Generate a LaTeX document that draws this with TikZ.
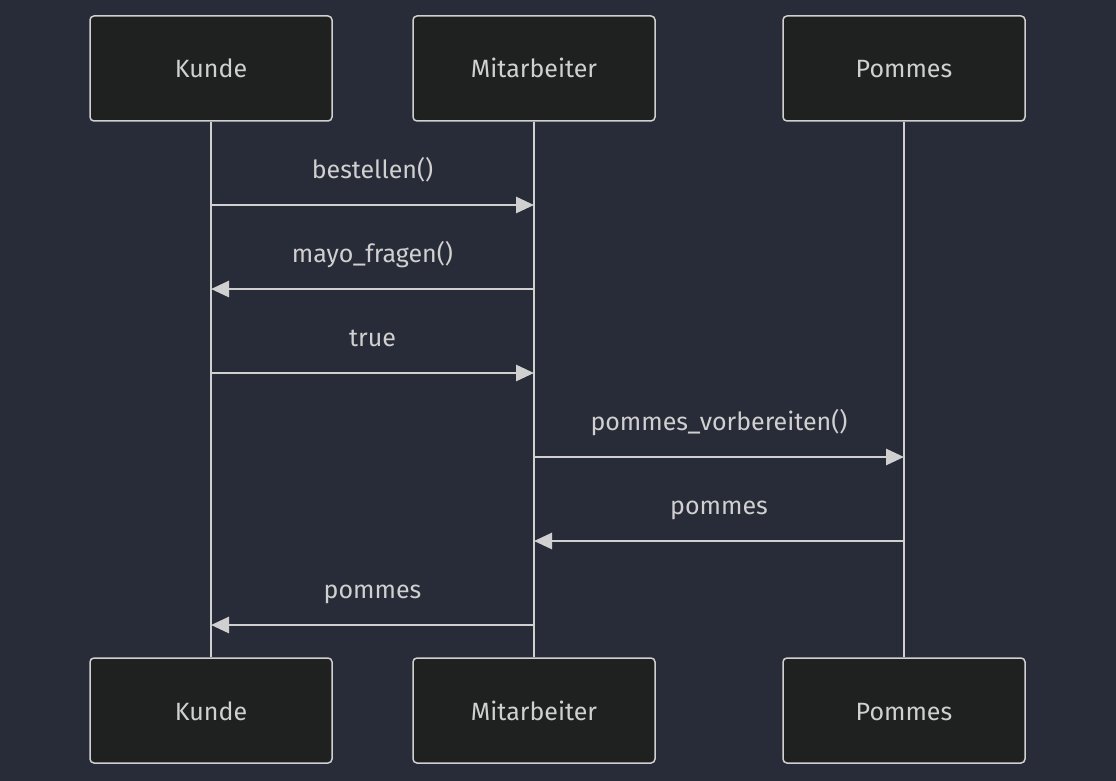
\documentclass[tikz,border=0pt]{standalone}
\usepackage{fontspec}
\setmainfont{Fira Sans}
\usetikzlibrary{arrows.meta}

\definecolor{bgcol}{RGB}{40,44,56}
\definecolor{boxcol}{RGB}{31,32,32}
\definecolor{linecol}{RGB}{208,208,208}

\tikzset{
  actor/.style={draw=linecol, fill=boxcol, line width=1.5pt, rounded corners=4pt,
    minimum width=242pt, minimum height=105pt, text=linecol,
    text height=22pt, text depth=3pt,
    font=\fontsize{25}{30}\selectfont},
  lifeline/.style={draw=linecol, line width=2.8pt},
  msg/.style={draw=linecol, line width=2.8pt, -{Triangle[length=18pt,width=16pt]}},
  msglabel/.style={text=linecol, font=\fontsize{25}{30}\selectfont,
    text height=22pt, text depth=3pt, yshift=36pt}
}

\begin{document}
\begin{tikzpicture}[x=1pt,y=1pt]
\fill[bgcol] (0,0) rectangle (1116,-781);
\useasboundingbox (0,0) rectangle (1116,-781);

% actors, top and bottom
\node[actor] (kundeT) at (211,-68.5) {Kunde};
\node[actor] (mitT) at (534,-68.5) {Mitarbeiter};
\node[actor] (pomT) at (904,-68.5) {Pommes};
\node[actor] (kundeB) at (211,-710.5) {Kunde};
\node[actor] (mitB) at (534,-710.5) {Mitarbeiter};
\node[actor] (pomB) at (904,-710.5) {Pommes};

% lifelines
\foreach \a in {kunde,mit,pom}
    \draw[lifeline] (\a T.south) -- (\a B.north);

% messages
\foreach \i/\y in {1/205,2/289,3/373,4/457,5/541,6/625}
    \coordinate (m\i) at (0,-\y);

\draw[msg] (kundeT |- m1) -- node[msglabel] {bestellen()} (mitT |- m1);
\draw[msg] (mitT |- m2) -- node[msglabel] {mayo\_fragen()} (kundeT |- m2);
\draw[msg] (kundeT |- m3) -- node[msglabel] {true} (mitT |- m3);
\draw[msg] (mitT |- m4) -- node[msglabel] {pommes\_vorbereiten()} (pomT |- m4);
\draw[msg] (pomT |- m5) -- node[msglabel] {pommes} (mitT |- m5);
\draw[msg] (mitT |- m6) -- node[msglabel] {pommes} (kundeT |- m6);
\end{tikzpicture}
\end{document}
